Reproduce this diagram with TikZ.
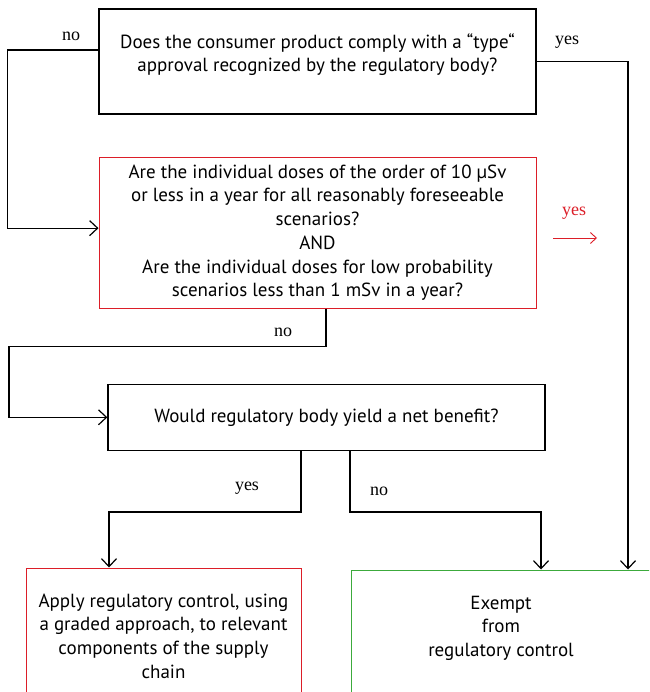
\documentclass[tikz,border=0pt]{standalone}
\usepackage{fontspec}
\setmainfont{PT Sans}
\newfontfamily\labelfont{Liberation Serif}
\usetikzlibrary{positioning,arrows.meta}

\definecolor{boxred}{RGB}{220,30,40}
\definecolor{boxgreen}{RGB}{60,170,60}

\begin{document}
\begin{tikzpicture}[
    x=1pt, y=-1pt,
    box/.style={draw, rectangle, align=center, line width=1.3pt, inner sep=0pt, font=\fontsize{19}{23.7}\selectfont},
    arrow/.style={-{Straight Barb[length=8pt, width=15pt]}, line width=1.2pt},
    lbl/.style={font=\labelfont\fontsize{18}{20}\selectfont}
]
\useasboundingbox (0,0) rectangle (649,692);
\clip (0,0) rectangle (649,692);

% Nodes
\node[box, minimum width=437pt, minimum height=105pt] (typeq) at (317.5,61.5) {Does the consumer product comply with a “type“\\approval recognized by the regulatory body?\\[-6pt]\mbox{}};
\node[box, draw=boxred, line width=1pt, minimum width=437pt, minimum height=151pt, below=42pt of typeq] (doseq) {Are the individual doses of the order of 10 µSv\\or less in a year for all reasonably foreseeable\\scenarios?\\AND\\Are the individual doses for low probability\\scenarios less than 1 mSv in a year?};
\node[box, minimum width=437pt, minimum height=66pt, below=75pt of doseq, xshift=9pt] (benefitq) {Would regulatory body yield a net benefit?};
\node[box, draw=boxred, line width=1pt, minimum width=275pt, minimum height=136pt] (control) at (163.5,636) {Apply regulatory control, using\\a graded approach, to relevant\\components of the supply\\chain};
\node[box, draw=boxgreen, line width=1pt, minimum width=300pt, minimum height=136pt] (exempt) at (501,638) {Exempt\\from\\regulatory control\\\mbox{}};

% Labels
\node[lbl] (no1) at (71,36) {no};
\node[lbl] (yes1) at (567,42) {yes};
\node[lbl, text=boxred] (yes2) at (574,213) {yes};
\node[lbl] (no2) at (283,332) {no};
\node[lbl] (yes3) at (247,488) {yes};
\node[lbl] (no3) at (379,491) {no};
\coordinate (redtail) at (553,238);
\coordinate (redhead) at (597,238);

% Arrows
\draw[arrow] ([yshift=11.5pt]typeq.west) -- ++(-91,0) |- ([yshift=4.5pt]doseq.west);
\draw[arrow] (typeq.east) -| ([xshift=127pt]exempt.north);
\draw[-{Straight Barb[length=6pt, width=11pt]}, boxred, line width=0.9pt] (redtail) -- (redhead);
\draw[arrow] ([xshift=8.5pt]doseq.south) |- ++(-317,38) |- (benefitq.west);
\draw[arrow] ([xshift=-25.5pt]benefitq.south) -- ++(0,61) -| ([xshift=-54.5pt]control.north);
\draw[arrow] ([xshift=23.5pt]benefitq.south) -- ++(0,61) -| ([xshift=40pt]exempt.north);

\end{tikzpicture}
\end{document}
